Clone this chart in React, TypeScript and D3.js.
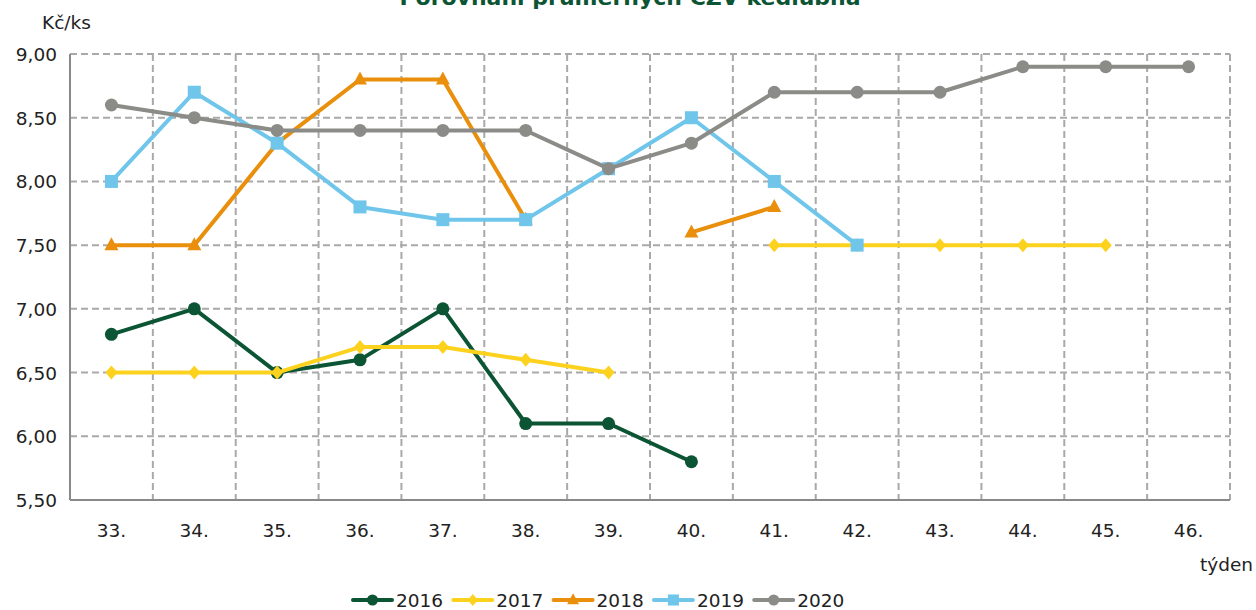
import React from 'react';
import * as d3 from 'd3';

const weeks = ['33.', '34.', '35.', '36.', '37.', '38.', '39.', '40.', '41.', '42.', '43.', '44.', '45.', '46.'];
const yTicks = [5.5, 6, 6.5, 7, 7.5, 8, 8.5, 9];

const v2016 = [6.8, 7.0, 6.5, 6.6, 7.0, 6.1, 6.1, 5.8, null, null, null, null, null, null];
const v2017 = [6.5, 6.5, 6.5, 6.7, 6.7, 6.6, 6.5, null, 7.5, 7.5, 7.5, 7.5, 7.5, null];
const v2018 = [7.5, 7.5, 8.3, 8.8, 8.8, 7.7, null, 7.6, 7.8, null, null, null, null, null];
const v2019 = [8.0, 8.7, 8.3, 7.8, 7.7, 7.7, 8.1, 8.5, 8.0, 7.5, null, null, null, null];
const v2020 = [8.6, 8.5, 8.4, 8.4, 8.4, 8.4, 8.1, 8.3, 8.7, 8.7, 8.7, 8.9, 8.9, 8.9];

const series = [
  { name: '2016', values: v2016, color: '#0b5434', marker: 'circle' },
  { name: '2017', values: v2017, color: '#fdd21e', marker: 'diamond' },
  { name: '2018', values: v2018, color: '#e98f0c', marker: 'triangle' },
  { name: '2019', values: v2019, color: '#70c6ea', marker: 'square' },
  { name: '2020', values: v2020, color: '#8b8b87', marker: 'circle' },
];

const font = '"DejaVu Sans", sans-serif';

const m = { left: 70, right: 1230, top: 54, bottom: 500 };

const Marker = ({ type, x, y, color, s = 1 }: { type: string; x: number; y: number; color: string; s?: number }) => {
  if (type === 'circle') return <circle cx={x} cy={y} r={6.5 * s} fill={color} />;
  if (type === 'square') return <rect x={x - 6.5 * s} y={y - 6.5 * s} width={13 * s} height={13 * s} fill={color} />;
  if (type === 'diamond')
    return <path d={`M${x},${y - 7 * s}L${x + 6 * s},${y}L${x},${y + 7 * s}L${x - 6 * s},${y}Z`} fill={color} />;
  return <path d={`M${x},${y - 8 * s}L${x + 7 * s},${y + 5 * s}L${x - 7 * s},${y + 5 * s}Z`} fill={color} />;
};

export default function App() {
  const x = d3.scaleBand().domain(weeks).range([m.left, m.right]);
  const y = d3.scaleLinear().domain([5.5, 9]).range([m.bottom, m.top]);
  const cx = (i: number) => (x(weeks[i]) as number) + x.bandwidth() / 2;
  const line = d3
    .line<number | null>()
    .defined((d) => d != null)
    .x((_, i) => cx(i))
    .y((d) => y(d as number));
  const fmt = (v: number) => v.toFixed(2).replace('.', ',');
  const grid = { stroke: '#a9a9a9', strokeWidth: 2, strokeDasharray: '7,4' };

  return (
    <svg width={1256} height={610} style={{ position: 'absolute', left: 0, top: 0 }}>
      <text x={630} y={5} textAnchor="middle" fontFamily={font} fontWeight="bold" fontSize={22} fill="#0b5434">
        Porovnání průměrných CZV kedlubna
      </text>
      <text x={42} y={29} fontFamily={font} fontSize={18.5} fill="#222">Kč/ks</text>

      {yTicks.slice(1).map((t) => (
        <line key={t} x1={m.left} x2={m.right} y1={y(t)} y2={y(t)} {...grid} />
      ))}
      {weeks.slice(1).map((w) => (
        <line key={w} x1={x(w)} x2={x(w)} y1={m.top} y2={m.bottom} {...grid} />
      ))}
      <line x1={m.right} x2={m.right} y1={m.top} y2={m.bottom} {...grid} />
      <line x1={m.left} x2={m.left} y1={m.top} y2={m.bottom} stroke="#898989" strokeWidth={2} />
      <line x1={m.left} x2={m.right} y1={m.bottom} y2={m.bottom} stroke="#898989" strokeWidth={2} />

      {yTicks.map((t) => (
        <text key={t} x={57} y={y(t) + 7} textAnchor="end" fontFamily={font} fontSize={18.5} fill="#222">
          {fmt(t)}
        </text>
      ))}
      {weeks.map((w, i) => (
        <text key={w} x={cx(i)} y={537} textAnchor="middle" fontFamily={font} fontSize={18.5} fill="#222">
          {w}
        </text>
      ))}
      <text x={1253} y={571} textAnchor="end" fontFamily={font} fontSize={18.5} fill="#222">týden</text>

      {series.map((s) => (
        <g key={s.name}>
          <path d={line(s.values) || ''} fill="none" stroke={s.color} strokeWidth={4} strokeLinejoin="round" />
          {s.values.map((v, i) =>
            v == null ? null : <Marker key={i} type={s.marker} x={cx(i)} y={y(v)} color={s.color} />
          )}
        </g>
      ))}

      {series.map((s, i) => {
        const lx = 353 + i * 100.3;
        return (
          <g key={s.name}>
            <line x1={lx} x2={lx + 39} y1={600} y2={600} stroke={s.color} strokeWidth={4} strokeLinecap="round" />
            <Marker type={s.marker} x={lx + 19.5} y={600} color={s.color} s={0.85} />
            <text x={lx + 43} y={607} fontFamily={font} fontSize={18.5} fill="#222">{s.name}</text>
          </g>
        );
      })}
    </svg>
  );
}
